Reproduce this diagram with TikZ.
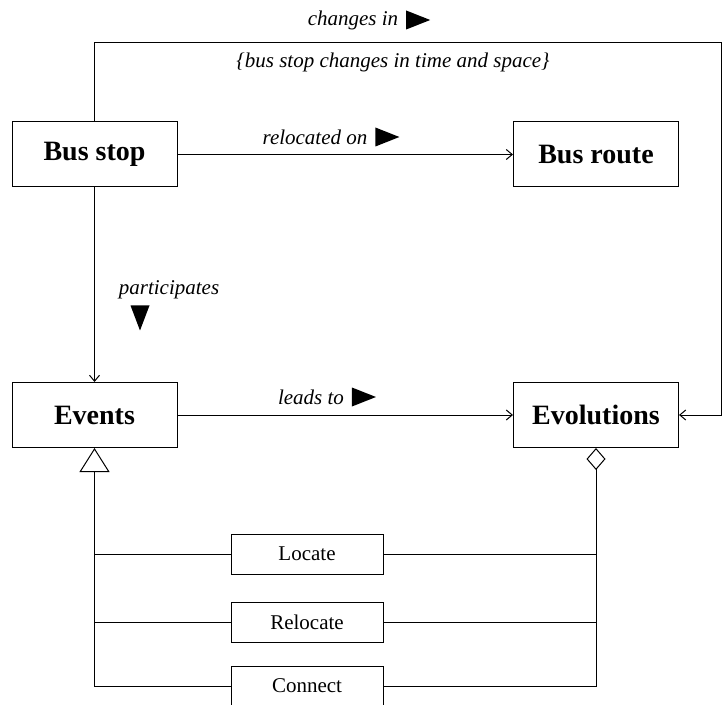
\documentclass[tikz,border=0pt]{standalone}
\usepackage{fontspec}
\setmainfont{Liberation Serif}
\usetikzlibrary{arrows.meta,positioning}

\begin{document}
\begin{tikzpicture}[x=0.5pt,y=-0.5pt,line width=0.5pt,
  classbox/.style={draw,inner sep=0pt,minimum width=82.5pt,minimum height=32.5pt,
    font=\fontsize{14}{16}\selectfont\bfseries},
  kindbox/.style={draw,inner sep=0pt,minimum width=76pt,minimum height=20pt,
    font=\fontsize{10.5}{12}\selectfont},
  rolelabel/.style={inner sep=0pt,font=\fontsize{10.5}{12}\selectfont\itshape},
  readmark/.style={inner sep=0pt,minimum width=12pt,minimum height=9.5pt,
    path picture={\fill (path picture bounding box.north west)
      -- (path picture bounding box.east)
      -- (path picture bounding box.south west) -- cycle;}},
  readmarkdown/.style={inner sep=0pt,minimum width=9.5pt,minimum height=12.5pt,
    path picture={\fill (path picture bounding box.north west)
      -- (path picture bounding box.north east)
      -- (path picture bounding box.south) -- cycle;}},
  assoc/.style={-{Straight Barb[length=3pt,width=5pt]}}]
\useasboundingbox (0,0) rectangle (722,705);
% Classes
\node[classbox] (busstop) at (94.5,154.5) {Bus stop};
\node[classbox] (busroute) at (596,154.5) {Bus route};
\node[classbox] (events) at (94.5,415) {Events};
\node[classbox] (evolutions) at (596,415) {Evolutions};
% Kinds of event
\node[kindbox] (locate) at (307,554) {Locate};
\node[kindbox] (relocate) at (307,622) {Relocate};
\node[kindbox] (connect) at (307,686) {Connect};
% Association from bus stop round to evolutions
\coordinate (topright) at (721,43);
\draw[assoc] (busstop.north) |- (topright) |- (evolutions.east);
\node[rolelabel] (changesin) at (353,20) {changes in};
\node[readmark,right=3.5pt of changesin] (changesmark) {};
\node[rolelabel] (constraint) at (393,62) {\{bus stop changes in time and space\}};
% Relocated on
\draw[assoc] (busstop) -- (busroute);
\node[rolelabel] (relocatedon) at (315,137) {relocated on};
\node[readmark,right=3.5pt of relocatedon] (relocatedmark) {};
% Participates
\draw[assoc] (busstop) -- (events);
\node[rolelabel] (participates) at (169,290) {participates};
\node[readmarkdown] (participatesmark) at (140,318) {};
% Leads to
\draw[assoc] (events) -- (evolutions);
\node[rolelabel] (leadsto) at (311,397) {leads to};
\node[readmark,right=3.5pt of leadsto] (leadsmark) {};
% Generalisation to events
\draw[-{Triangle[open,length=12pt,width=15pt]}] (connect.west) -| (events.south);
\draw (locate.west) -- (locate.west -| events.south);
\draw (relocate.west) -- (relocate.west -| events.south);
% Aggregation into evolutions
\draw[{Diamond[open,length=11pt,width=9.5pt]}-] (evolutions.south) |- (connect.east);
\draw (locate.east) -- (locate.east -| evolutions.south);
\draw (relocate.east) -- (relocate.east -| evolutions.south);
\end{tikzpicture}
\end{document}
